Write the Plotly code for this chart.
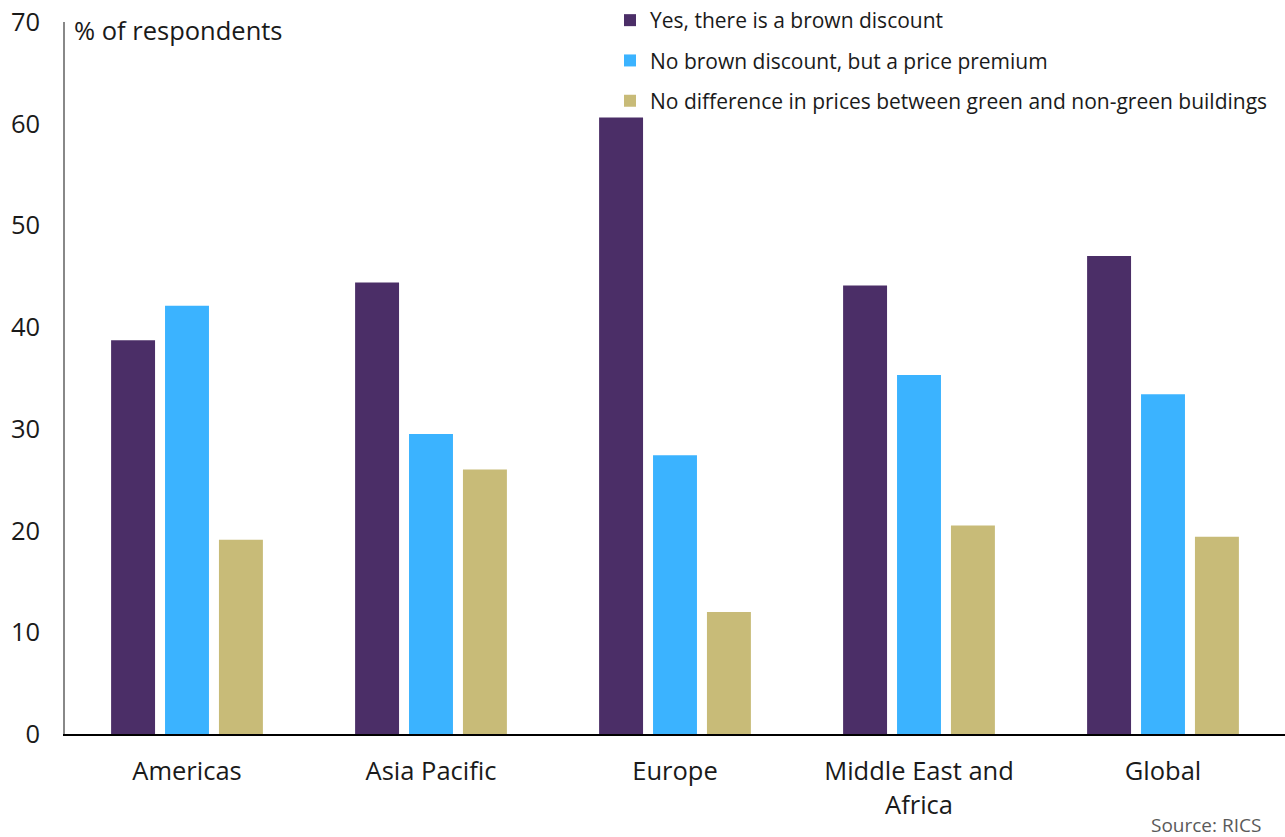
import plotly.graph_objects as go

categories = ["Americas", "Asia Pacific", "Europe", "Middle East and<br>Africa", "Global"]
brown_discount = [38.7, 44.4, 60.6, 44.1, 47.0]
price_premium = [42.1, 29.5, 27.4, 35.3, 33.4]
no_difference = [19.1, 26.0, 12.0, 20.5, 19.4]

series_names = [
    "Yes, there is a brown discount",
    "No brown discount, but a price premium",
    "No difference in prices between green and non-green buildings",
]
series_values = [brown_discount, price_premium, no_difference]
colors = ["#4B2E67", "#3BB3FF", "#C8BB78"]

FONT = "Open Sans"
BIG = 25.5
PLOT_L, PLOT_R, PLOT_T, PLOT_B = 65, 1285, 22, 734
PW, PH = PLOT_R - PLOT_L, PLOT_B - PLOT_T

fig = go.Figure()
for i, (name, vals, col) in enumerate(zip(series_names, series_values, colors)):
    fig.add_trace(go.Bar(
        x=categories, y=vals, name=name, marker_color=col,
        marker_line_width=0, legendgroup=f"g{i}",
    ))

fig.update_layout(
    width=1285, height=837,
    paper_bgcolor="white", plot_bgcolor="white",
    font=dict(family=FONT, size=BIG, color="#1a1a1a"),
    margin=dict(l=PLOT_L, r=1285 - PLOT_R, t=PLOT_T, b=837 - PLOT_B, autoexpand=False),
    barmode="group", bargap=0.337, bargroupgap=0.185,
    showlegend=True,
    legend=dict(
        xref="paper", yref="paper",
        x=(610 - PLOT_L) / PW, y=1 + PLOT_T / PH, xanchor="left", yanchor="top",
        font=dict(family=FONT, size=21, color="#1a1a1a"),
        tracegroupgap=10, bgcolor="rgba(0,0,0,0)",
        traceorder="grouped",
    ),
    xaxis=dict(
        showline=True, linecolor="black", linewidth=1.5,
        showgrid=False, ticks="", tickfont=dict(size=BIG), tickangle=0,
        ticklabelstandoff=14,
    ),
    yaxis=dict(
        range=[0, 70], dtick=10, showline=True, linecolor="#888888", linewidth=1.5,
        showgrid=False, zeroline=False, ticks="", tickfont=dict(size=BIG),
        ticklabelstandoff=18,
    ),
    annotations=[
        dict(text="% of respondents", xref="paper", yref="paper", x=(72 - PLOT_L) / PW,
             y=1 - 8 / PH, xanchor="left", yanchor="middle", showarrow=False,
             font=dict(family=FONT, size=BIG, color="#1a1a1a")),
        dict(text="Source: RICS", xref="paper", yref="paper", x=(1263 - PLOT_L) / PW,
             y=-91 / PH, xanchor="right", yanchor="middle", showarrow=False,
             font=dict(family=FONT, size=19, color="#5a5a5a")),
    ],
)

fig.write_html("out.html", config={"displayModeBar": False},
               post_script="document.body.style.margin='0';")
